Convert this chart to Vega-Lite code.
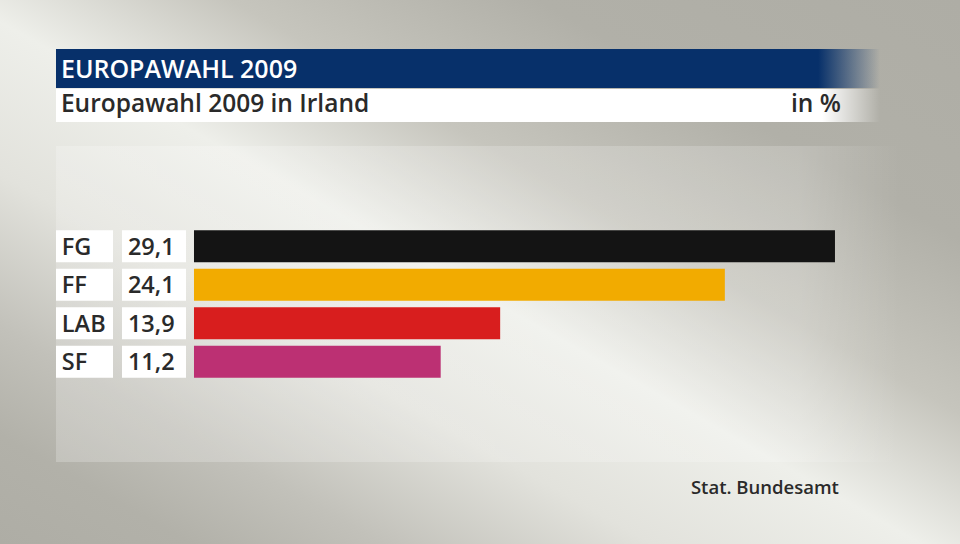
{
  "$schema": "https://vega.github.io/schema/vega-lite/v6.json",
  "width": 960,
  "height": 544,
  "autosize": {"type": "fit", "contains": "padding"},
  "padding": 0,
  "background": "#b0afa7",
  "config": {
    "view": {"stroke": null},
    "locale": {"number": {"decimal": ",", "thousands": ".", "grouping": [3], "currency": ["", " €"]}},
    "text": {"font": "Open Sans", "fontWeight": 600}
  },
  "data": {"values": [
    {"party": "FG", "value": 29.1},
    {"party": "FF", "value": 24.1},
    {"party": "LAB", "value": 13.9},
    {"party": "SF", "value": 11.2}
  ]},
  "resolve": {"scale": {"y": "independent"}},
  "layer": [
    {
      "data": {"values": [{}]},
      "encoding": {
        "x": {"type": "quantitative", "scale": {"domain": [-8.807, 34.776], "nice": false, "zero": false}, "axis": null},
        "y": {"type": "quantitative", "scale": {"domain": [0, 544], "nice": false, "zero": false, "reverse": true}, "axis": null}
      },
      "layer": [
        {
          "mark": {"type": "rect", "fill": {"gradient": "linear", "x1": 1, "y1": 0, "x2": 0, "y2": 1, "stops": [
            {"offset": 0, "color": "#aeada5"},
            {"offset": 0.22, "color": "#b1b0a8"},
            {"offset": 0.38, "color": "#c6c5bd"},
            {"offset": 0.52, "color": "#eeefea"},
            {"offset": 0.66, "color": "#e2e2dc"},
            {"offset": 0.8, "color": "#c2c1ba"},
            {"offset": 0.9, "color": "#b2b1a9"},
            {"offset": 1, "color": "#aeada5"}
          ]}},
          "encoding": {"x": {"datum": -8.807}, "x2": {"datum": 34.776}, "y": {"datum": 0}, "y2": {"datum": 544}}
        },
        {
          "mark": {"type": "rect", "fill": {"gradient": "linear", "x1": 0, "y1": 0, "x2": 1, "y2": 0, "stops": [
            {"offset": 0, "color": "rgba(255,255,255,0.22)"},
            {"offset": 0.88, "color": "rgba(255,255,255,0.18)"},
            {"offset": 1, "color": "rgba(255,255,255,0)"}
          ]}},
          "encoding": {"x": {"datum": -6.265}, "x2": {"datum": 32.05}, "y": {"datum": 146}, "y2": {"datum": 462}}
        },
        {
          "mark": {"type": "rect", "fill": {"gradient": "linear", "x1": 0, "y1": 0, "x2": 1, "y2": 0, "stops": [
            {"offset": 0, "color": "#07306a"},
            {"offset": 0.925, "color": "#07306a"},
            {"offset": 1, "color": "rgba(7,48,106,0)"}
          ]}},
          "encoding": {"x": {"datum": -6.265}, "x2": {"datum": 31.143}, "y": {"datum": 49}, "y2": {"datum": 88}}
        },
        {
          "mark": {"type": "rect", "fill": {"gradient": "linear", "x1": 0, "y1": 0, "x2": 1, "y2": 0, "stops": [
            {"offset": 0, "color": "#ffffff"},
            {"offset": 0.93, "color": "#ffffff"},
            {"offset": 1, "color": "rgba(255,255,255,0)"}
          ]}},
          "encoding": {"x": {"datum": -6.265}, "x2": {"datum": 31.143}, "y": {"datum": 89}, "y2": {"datum": 122}}
        },
        {
          "mark": {"type": "text", "text": "EUROPAWAHL 2009", "align": "left", "baseline": "alphabetic", "fontSize": 25, "color": "#ffffff"},
          "encoding": {"x": {"datum": -6.04}, "y": {"datum": 78}}
        },
        {
          "mark": {"type": "text", "text": "Europawahl 2009 in Irland", "align": "left", "baseline": "alphabetic", "fontSize": 24.5, "color": "#2a2a2a"},
          "encoding": {"x": {"datum": -6.04}, "y": {"datum": 112}}
        },
        {
          "mark": {"type": "text", "text": "in %", "align": "right", "baseline": "alphabetic", "fontSize": 24.5, "color": "#2a2a2a"},
          "encoding": {"x": {"datum": 29.37}, "y": {"datum": 112}}
        },
        {
          "mark": {"type": "text", "text": "Stat. Bundesamt", "align": "right", "baseline": "alphabetic", "fontSize": 18.5, "color": "#2a2a2a"},
          "encoding": {"x": {"datum": 29.28}, "y": {"datum": 494}}
        }
      ]
    },
    {
      "encoding": {
        "y": {"field": "party", "type": "nominal", "axis": null, "scale": {"domain": ["FG", "FF", "LAB", "SF"], "range": [227, 381], "paddingInner": 0.17, "paddingOuter": 0.085}}
      },
      "layer": [
        {
          "mark": {"type": "bar", "color": "#ffffff"},
          "encoding": {"x": {"datum": -6.265, "type": "quantitative"}, "x2": {"datum": -3.677}}
        },
        {
          "mark": {"type": "bar", "color": "#ffffff"},
          "encoding": {"x": {"datum": -3.269, "type": "quantitative"}, "x2": {"datum": -0.363}}
        },
        {
          "mark": {"type": "bar"},
          "encoding": {
            "x": {"field": "value", "type": "quantitative"},
            "x2": {"datum": 0},
            "color": {"field": "party", "type": "nominal", "legend": null, "scale": {"domain": ["FG", "FF", "LAB", "SF"], "range": ["#141414", "#f2ab00", "#d81e1e", "#bc3073"]}}
          }
        },
        {
          "mark": {"type": "text", "align": "left", "baseline": "alphabetic", "dy": 8.5, "fontSize": 23.5, "color": "#2a2a2a"},
          "encoding": {"x": {"datum": -6.0, "type": "quantitative"}, "text": {"field": "party"}}
        },
        {
          "mark": {"type": "text", "align": "left", "baseline": "alphabetic", "dy": 8.5, "fontSize": 23.5, "color": "#2a2a2a"},
          "encoding": {"x": {"datum": -3.0, "type": "quantitative"}, "text": {"field": "value", "type": "quantitative", "format": ".1f"}}
        }
      ]
    }
  ]
}
